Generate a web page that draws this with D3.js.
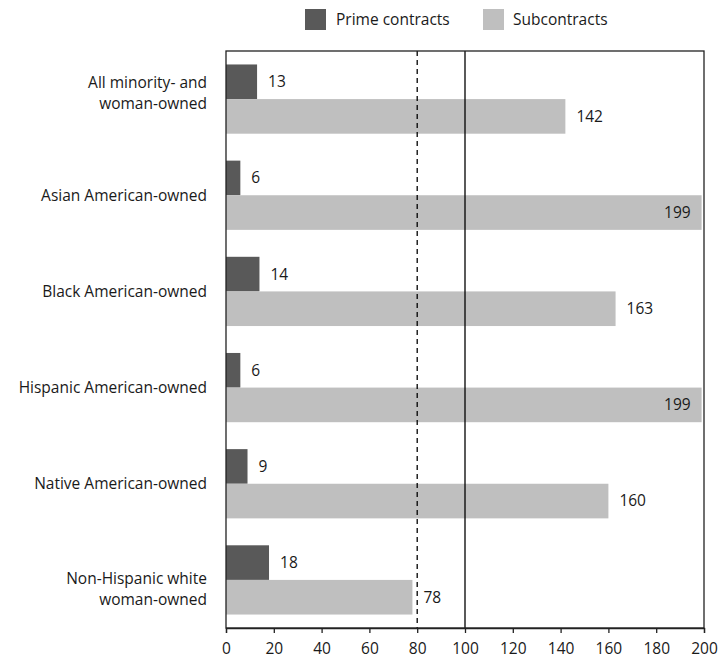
<!DOCTYPE html>
<html><head><meta charset="utf-8">
<script src="https://cdn.jsdelivr.net/npm/d3@7"></script>
<style>
body{margin:0;background:#fff;}
text{font-family:"Open Sans",sans-serif;fill:#1a1a1a;}
</style></head>
<body><svg id="c" width="722" height="663"></svg>
<script>
const categories = [
  ["All minority- and","woman-owned"],
  ["Asian American-owned"],
  ["Black American-owned"],
  ["Hispanic American-owned"],
  ["Native American-owned"],
  ["Non-Hispanic white","woman-owned"]
];
const primeValues = [13, 6, 14, 6, 9, 18];
const subValues = [142, 199, 163, 199, 160, 78];
const seriesNames = ["Prime contracts", "Subcontracts"];
const xTicks = [0,20,40,60,80,100,120,140,160,180,200];
const refLines = [{v:80, dash:"5,4"}, {v:100, dash:null}];

const colors = ["#595959", "#bfbfbf"];
const FS = 15.5;
const svg = d3.select("#c");
const L = 226, R = 704, T = 51, B = 628;
const x = d3.scaleLinear().domain([0,200]).range([L,R]);
const y = d3.scaleBand().domain(d3.range(categories.length)).range([T,B]).paddingInner(0.28).paddingOuter(0.14);
const ys = d3.scaleBand().domain([0,1]).range([0, y.bandwidth()]);

const g = svg.append("g");
categories.forEach((c,i)=>{
  [primeValues[i], subValues[i]].forEach((v,s)=>{
    const by = y(i)+ys(s);
    g.append("rect").attr("x",x(0)).attr("y",by).attr("width",x(v)-x(0)).attr("height",ys.bandwidth()).attr("fill",colors[s]);
    const inside = x(v) > R - 40;
    g.append("text").attr("x", inside ? x(v)-11 : x(v)+11).attr("y", by+ys.bandwidth()/2)
      .attr("dy","0.35em").attr("text-anchor", inside?"end":"start").attr("font-size",FS).text(v);
  });
});

refLines.forEach(r=>{
  svg.append("line").attr("x1",x(r.v)).attr("x2",x(r.v)).attr("y1",T).attr("y2",B)
    .attr("stroke","#000").attr("stroke-width",1.3).attr("stroke-dasharray",r.dash);
});

svg.append("rect").attr("x",L).attr("y",T).attr("width",R-L).attr("height",B-T)
  .attr("fill","none").attr("stroke","#222").attr("stroke-width",1.3);

const ax = svg.append("g").attr("transform",`translate(0,${B})`)
  .call(d3.axisBottom(x).tickValues(xTicks).tickSize(5).tickPadding(10));
ax.select(".domain").attr("stroke","#222").attr("stroke-width",1.3);
ax.selectAll(".tick line").attr("stroke","#222").attr("stroke-width",1.3);
ax.selectAll("text").attr("font-size",FS).attr("font-family","'Open Sans',sans-serif").attr("fill","#1a1a1a");

const lineOffsets = {0:[-17,4], 5:[-1,20]};
categories.forEach((c,i)=>{
  const cy = y(i)+y.bandwidth()/2;
  const offs = c.length===1 ? [0] : lineOffsets[i];
  c.forEach((t,k)=>{
    svg.append("text").attr("x",207).attr("y",cy+offs[k]).attr("dy","0.35em")
      .attr("text-anchor","end").attr("font-size",FS).text(t);
  });
});

const leg = [[305,336],[483,513]];
seriesNames.forEach((n,s)=>{
  svg.append("rect").attr("x",leg[s][0]).attr("y",9).attr("width",21).attr("height",21).attr("fill",colors[s]);
  svg.append("text").attr("x",leg[s][1]).attr("y",20).attr("dy","0.35em").attr("font-size",FS).text(n);
});
</script></body></html>
